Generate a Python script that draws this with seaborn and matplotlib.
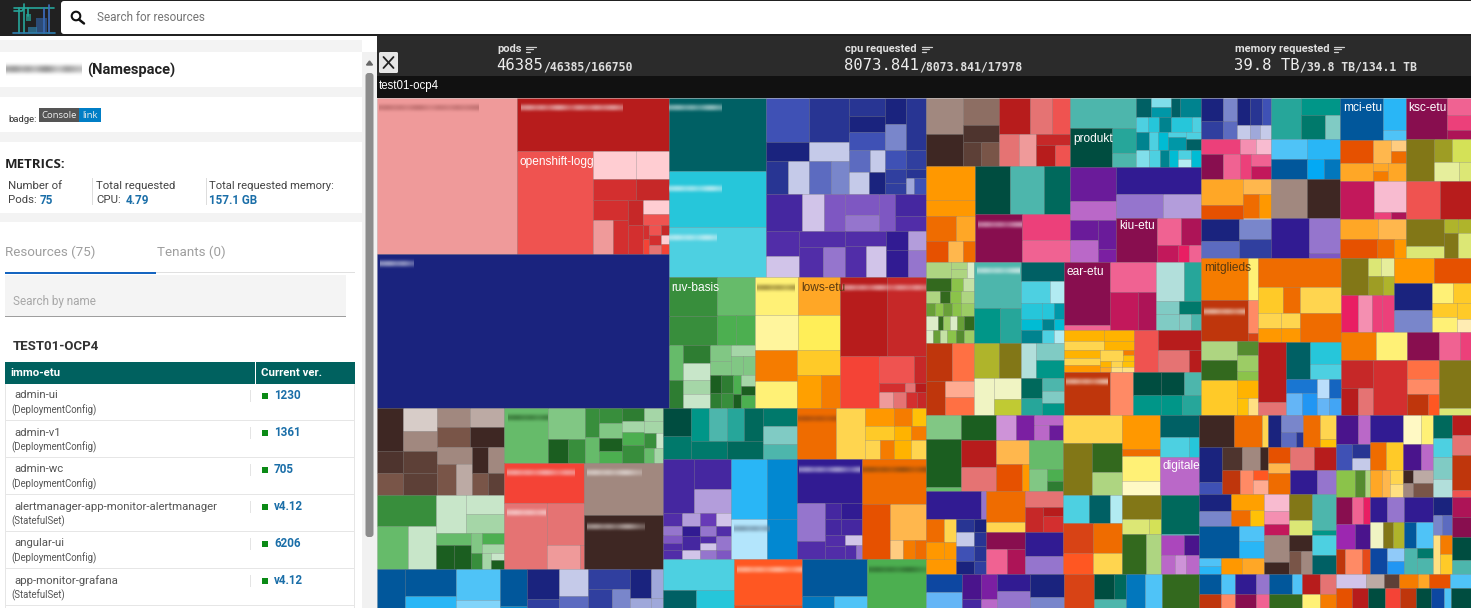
import matplotlib
matplotlib.use("Agg")
import matplotlib.pyplot as plt
import numpy as np
import seaborn as sns
from matplotlib.colors import to_rgb
from matplotlib.patches import Circle, FancyBboxPatch, Rectangle

# shade families, keys in the trees below are family letter + shade digit
SHADES = "123456789"
FAMILIES = {
    "R": ["#FFCDD2", "#EF9A9A", "#E57373", "#EF5350", "#F44336", "#E53935", "#D32F2F", "#C62828", "#B71C1C"],
    "K": ["#F8BBD0", "#F48FB1", "#F06292", "#EC407A", "#E91E63", "#D81B60", "#C2185B", "#AD1457", "#880E4F"],
    "P": ["#E1BEE7", "#CE93D8", "#BA68C8", "#AB47BC", "#9C27B0", "#8E24AA", "#7B1FA2", "#6A1B9A", "#4A148C"],
    "D": ["#D1C4E9", "#B39DDB", "#9575CD", "#7E57C2", "#673AB7", "#5E35B1", "#512DA8", "#4527A0", "#311B92"],
    "I": ["#C5CAE9", "#9FA8DA", "#7986CB", "#5C6BC0", "#3F51B5", "#3949AB", "#303F9F", "#283593", "#1A237E"],
    "U": ["#BBDEFB", "#90CAF9", "#64B5F6", "#42A5F5", "#2196F3", "#1E88E5", "#1976D2", "#1565C0", "#0D47A1"],
    "S": ["#B3E5FC", "#81D4FA", "#4FC3F7", "#29B6F6", "#03A9F4", "#039BE5", "#0288D1", "#0277BD", "#01579B"],
    "C": ["#B2EBF2", "#80DEEA", "#4DD0E1", "#26C6DA", "#00BCD4", "#00ACC1", "#0097A7", "#00838F", "#006064"],
    "T": ["#B2DFDB", "#80CBC4", "#4DB6AC", "#26A69A", "#009688", "#00897B", "#00796B", "#00695C", "#004D40"],
    "G": ["#C8E6C9", "#A5D6A7", "#81C784", "#66BB6A", "#4CAF50", "#43A047", "#388E3C", "#2E7D32", "#1B5E20"],
    "L": ["#DCEDC8", "#C5E1A5", "#AED581", "#9CCC65", "#8BC34A", "#7CB342", "#689F38", "#558B2F", "#33691E"],
    "M": ["#F0F4C3", "#E6EE9C", "#DCE775", "#D4E157", "#CDDC39", "#C0CA33", "#AFB42B", "#9E9D24", "#827717"],
    "Y": ["#FFF9C4", "#FFF59D", "#FFF176", "#FFEE58", "#FFEB3B", "#FDD835", "#FBC02D", "#F9A825", "#F57F17"],
    "A": ["#FFECB3", "#FFE082", "#FFD54F", "#FFCA28", "#FFC107", "#FFB300", "#FFA000", "#FF8F00", "#FF6F00"],
    "O": ["#FFE0B2", "#FFCC80", "#FFB74D", "#FFA726", "#FF9800", "#FB8C00", "#F57C00", "#EF6C00", "#E65100"],
    "F": ["#FFCCBC", "#FFAB91", "#FF8A65", "#FF7043", "#FF5722", "#F4511E", "#E64A19", "#D84315", "#BF360C"],
    "B": ["#D7CCC8", "#BCAAA4", "#A1887F", "#8D6E63", "#795548", "#6D4C41", "#5D4037", "#4E342E", "#3E2723"],
}

# treemap sizes: [size, child, size, child, ...], splits alternate between
# columns and rows at each level, a child is a nested list or a category key
RED_NAVY = [466, [398, "R2", 431, [160, "R9", 306, [214, "R4", 217, [81, [124, "R1", 93, "R1"], 65, [124, "R7", 93, "R8"], 160, [101, [59, "R7", 101, [59, "R2", 42, "R7"]], 42, [75, "R8", 85, "R7"], 74, [40, "R1", 35, "R4", 85, [18, [40, "R7", 45, "R5"], 32, [30, "R4", 30, "R7", 25, "R3"], 24, [30, "R8", 25, "R1", 30, "R5"]]]]]]]], 462, "I9"]
TEAL_COL = [218, "C9", 170, "C4", 149, "C3"]
INDIGO_PURPLE = [
    288, [123, [133, "I5", 55, "I9", 100, [62, "I8", 61, "I1"]],
          112, [133, "I8", 55, "I1", 100, [62, "I4", 50, "I3"]],
          103, [53, "I8", 50, "I9", 52, "I5", 68, [60, "I4", 43, "I1"], 65, [57, "I1", 46, "I9"]],
          60, [78, "I9", 77, "I3", 58, "I5", 43, "I7", 32, "I7"],
          58, [155, "I8", 58, "I7", 28, "I8", 47, [25, "I2", 33, "I5"]]],
    112, [102, "D8", 63, "D1", 61, "D4", 97, [62, "D4", 50, "D3"], 45, "D4", 88, [65, "D8", 47, "D7"]],
    137, [93, [73, "D7", 64, "D1"], 133, [48, "D7", 89, [68, "D7", 65, "D3"]], 115, [43, "D7", 94, [60, "D7", 55, "D1"]], 65, [55, "D9", 82, "D9"], 50, [55, "D2", 82, "D3"]],
]
GREEN_MID = [
    205, [138, [116, "G7", 89, "G7"], 108, [115, "G4", 90, [53, "G5", 55, "G5"]]],
    188, [41, [103, "G4", 85, "G8"], 75, [52, "G8", 50, "G1", 42, "G2", 41, "G1"],
          130, [90, [60, [46, "G3", 44, "G3"], 70, [32, "G2", 58, [35, "G3", 35, "G3"]]],
                98, [33, [52, "G9", 46, "G8"], 33, [52, "G8", 46, "G7"], 24, [55, "G5", 43, "G9"], 40, [32, "G2", 26, "G9", 40, "G5"]]]],
]
YELLOW_MID = [
    220, [123, [115, "Y3", 105, "Y2"], 120, [115, "O4", 105, "Y4"]],
    173, [121, [92, "O7", 81, "Y3"], 122, [75, "A4", 98, [68, "A7", 54, "O7"]]],
]
RED_MID = [
    238, [135, "R9", 110, "R8"],
    155, [110, "R5", 135, [80, [100, "R4", 35, "R8"], 28, [75, "R7", 30, "R3", 30, "R9"], 47, [40, "R2", 37, "R3", 33, "R7", 25, "R8"]]],
]
MID_TOP = [537, [278, TEAL_COL, 456, INDIGO_PURPLE], 393, [246, GREEN_MID, 243, YELLOW_MID, 245, RED_MID]]

BROWNS = [
    260, [73, [128, "B9", 65, "B8", 67, "B5"], 97, [68, "B1", 60, "B3", 65, "B7", 67, "B7"],
          192, [58, [95, "B3", 97, "B2"], 58, [95, "B5", 97, "B9"],
                144, [100, [52, "B3", 92, [55, "B5", 45, "B2"]], 45, [78, "B9", 66, "B5"], 47, [78, "B3", 66, "B7"]]]],
    220, [167, [93, "G7", 127, [87, "G4", 80, "G1"]],
          194, [112, [86, "G1", 108, [58, "G1", 54, "G2"]],
                108, [100, [36, "G4", 72, [50, "G9", 50, "G9"]], 30, [60, "G3", 48, "G7"], 64, [33, "G5", 28, "G2", 47, [25, "G2", 39, [20, "G1", 27, "G9"]]]]]],
]
GREEN_RED = [
    163, [123, "G4", 106, [92, "G3", 71, [57, "G9", 49, "G7"]], 40, [88, "G7", 75, "G4"], 66, [46, "G7", 44, "G3", 38, "G9", 35, "G5"], 63, [40, "G8", 33, "G2", 37, "G5", 53, "G7"], 53, [40, "G2", 35, "G2", 45, [33, "G7", 20, "G1"], 43, [27, "G4", 26, "G2"]]],
    317, [226, [120, "R5", 197, [122, "R3", 104, [125, "R3", 72, [92, "R2", 12, "R3"]]]], 225, [157, "B3", 160, "B9"]],
]
LOWER_LEFT = [
    480, [362, BROWNS, 451, GREEN_RED],
    213, [80, "S9", 145, [83, "S9", 130, "S4"], 125, [95, "S3", 118, "S2"], 75, [110, "S9", 103, "S7"], 93, [90, "I9", 123, "I7"], 82, [83, "I1", 130, "I4"], 120, [62, "I7", 151, [68, "I7", 52, "I3"]], 58, [88, "I9", 125, "I2"], 35, [88, "I2", 125, "I2"]],
]
LOWER_RIGHT = [
    153, [79, [85, "T9", 68, "T7"],
          206, [100, [51, "T5", 52, "T3", 50, "T4", 53, "T8"], 53, [103, "T7", 103, "T8"]],
          97, [53, "T7", 55, "T2", 45, "T3"],
          111, "O8", 83, "A3",
          174, [55, [83, "O5", 50, "O7", 41, "A5"], 41, [83, "A4", 48, "A6", 43, "O7"], 57, [43, "A3", 40, "O7", 48, "A6", 43, "A3"]]],
    298, [194, [162, [87, "D8", 107, [90, "D8", 72, "D2"]],
                136, [38, [53, "D7", 38, "D3", 33, "D4", 30, "D7", 40, "D7"], 35, [53, "D2", 42, "D9", 60, "D8", 39, "D1"], 33, [53, "D5", 42, "D3", 30, "D7", 30, "D1", 39, "D3"], 30, [53, "D1", 42, "D7", 60, "D3", 39, "D4"]]],
          103, [178, "S4", 120, "S1"], 85, [178, "S7", 120, "S7"],
          186, [130, "D9", 168, [80, [113, "D3", 55, "D7"], 106, [50, [47, "D8", 59, "D9"], 45, [47, "D8", 59, "D8"], 73, [57, [35, "D7", 38, "D7"], 49, [30, "D1", 43, [30, "D7", 19, "D3"]]]]]],
          182, [135, "O8", 163, [78, "O9", 104, [105, "O3", 58, [38, "O2", 34, "O7", 32, "O8"]]]]],
    242, [202, [93, "C3", 149, [95, "C9", 107, "C4"]], 195, [137, "F5", 105, "F7"], 185, [110, "S9", 132, [92, "S8", 93, "S3"]], 168, "G5"],
]
COL1 = [310, [292, RED_NAVY, 257, MID_TOP], 232, [286, LOWER_LEFT, 263, LOWER_RIGHT]]

# right half, upper left quarter
BROWN_RED_ROW = [105, [108, "B3", 95, "B9"], 105, [82, "B4", 50, "B8", 71, [53, "B7", 52, "B5"]],
                 205, [107, [90, "R9", 62, "R3", 53, "R4"], 96, [57, "R3", 50, "R2", 98, [35, "R8", 61, [55, "R9", 43, "R4"]]]]]
ORANGE_ROW = [142, [103, "O5", 47, "O5", 75, [87, "O8", 55, "O4"], 63, [63, "O9", 42, "O3", 37, "O8"]],
              273, [143, [100, "T9", 96, "T3", 77, "T8"], 145, [133, "K9", 140, [78, "K4", 65, "K3"]]]]
TEAL_ROW = [188, [90, "T3", 118, [120, "T9", 68, [75, "T4", 43, "T3"]]],
            187, [56, [42, "C9", 60, [27, "C2", 29, "C7"], 25, "C9", 60, "C8"],
                  47, [35, "C3", 30, "C4", 35, "C8", 60, "C4", 27, "C3"],
                  52, [38, "C8", 25, "C3", 30, "C5", 50, [15, "C3", 37, "C7"], 44, [20, "C3", 32, "C9"]],
                  53, [38, "C2", 32, "C3", 25, "C8", 25, "C5", 37, [28, "C3", 25, "C1"], 30, "C5"]]]
PURPLE_ROW = [131, [100, "P8", 58, "P3", 125, [80, [60, "P8", 65, "P3"], 51, [85, "P8", 40, "P7"]]],
              244, [80, "D9", 72, [135, "D3", 109, "D2"], 131, [117, "K9", 127, [80, [70, "K3", 57, "K8"], 51, [62, "K7", 30, "K5", 35, "K3"]]]]]

LIME_MOSAIC = [48, [72, "L3", 47, [22, "L3", 26, "L3"], 18, "L1"],
               38, [72, "L9", 35, "L5", 30, "L2"],
               37, [40, "L3", 30, "L9", 30, "L5", 37, "L3"],
               40, [25, "L7", 25, "L5", 25, "L7", 25, "L5", 37, "L4"],
               40, [35, "L1", 15, "L9", 20, "L4", 20, "L1", 20, "L7", 27, "L9"],
               40, [20, "L1", 20, "L7", 20, "L2", 25, "L5", 25, "L8", 27, "L4"]]
CYAN_MOSAIC = [58, "C9", 65, [82, "C3", 41, "C1"],
               120, [60, [47, "C4", 35, "C5", 38, "C8"], 33, [47, "C4", 35, "C8", 38, "C3"], 30, [47, "C7", 35, "C5", 38, "C1"]]]
B_LEFT = [243, [137, LIME_MOSAIC, 137, [137, "T3", 105, [75, "T5", 62, "T4"]], 123, CYAN_MOSAIC],
          216, [137, [115, [74, "F9", 63, "F4"], 101, [55, "F9", 82, [47, "F2", 54, "F4"]]],
                135, [105, [72, "M7", 63, "M9"], 111, [58, "M1", 77, [62, "M1", 49, "M6"]]],
                125, [105, [43, "T1", 82, [52, "T2", 53, "T5"]], 111, [62, [60, "T8", 51, "T4"], 63, [40, "T3", 35, "T2", 36, "T5"]]]]]
AMBER_MOSAIC = [53, [72, "A6", 55, "A6"], 40, [72, "A3", 55, "A6"],
                107, [65, [38, "A6", 35, "A3", 34, "O5"],
                      62, [55, [43, "A3", 19, [25, "O7", 30, "A5"]], 52, [20, [26, "A6", 26, "O4"], 20, [26, "A3", 26, "A2"], 22, [26, "A5", 26, "A2"]]]]]
B_RIGHT = [203, [133, [190, "K9", 13, "K3"], 130, [90, "K3", 113, [78, "K7", 52, "K8"]], 130, [117, [80, "T1", 50, "T4"], 40, [68, "T2", 62, "T7"], 46, [68, "T2", 32, "T2", 30, "T3"]]],
           128, [200, AMBER_MOSAIC, 70, "R4", 123, [62, "R9", 66, [88, "R3", 35, "R9"]]],
           128, [131, "F9", 68, "F3", 194, [67, [80, "T9", 64, "T9", 50, "T3"], 61, [80, "T5", 60, "T5", 54, "T4"]]]]
C2_LEFT = [164, [415, [203, BROWN_RED_ROW, 288, ORANGE_ROW], 375, [208, TEAL_ROW, 283, PURPLE_ROW]], 153, [397, B_LEFT, 393, B_RIGHT]]

# right half, upper right quarter
PINK_INDIGO = [202, [123, [62, [70, "I9", 53, "I7"], 42, [68, "I3", 55, "I4"], 98, [80, [38, "I9", 34, "I8", 28, "I5"], 43, [38, "I1", 30, "I2", 32, "I1"]]],
                     120, [112, [45, "K4", 75, [62, "K9", 50, "K3"]], 90, [45, [46, "K2", 44, "K1"], 75, [32, "K4", 58, [35, "K3", 40, "K7"]]]]],
               198, [123, [85, "T4", 113, [50, "T5", 73, [70, "T7", 43, "T2"]]], 60, [103, "S3", 95, "S4"], 60, [103, "S9", 50, "S5", 45, "S8"]]]
ORANGE_BROWN = [202, [118, [120, [80, "O4", 40, "O9"], 82, [47, "O3", 73, [47, "O8", 35, "O5"]]], 118, [110, [68, "I9", 50, "I4"], 92, [60, "I3", 58, "I7"]]],
                198, [116, [103, "B3", 95, "B9"], 120, [108, "D9", 90, [105, "D3", 15, "D4"]]]]
MCI_BLOCK = [190, [125, [125, "S9", 65, [97, "S4", 28, "S3"]], 123, [95, [70, "O9", 53, "O4"], 95, [70, [53, "O3", 42, [33, "O2", 37, "O8"]], 53, [45, [25, "O4", 28, "O7"], 50, "O4"]]]],
             188, [123, [120, "K9", 68, [52, "K3", 45, "K4", 26, "K8"]], 125, [82, "M9", 106, [68, [52, "M8", 54, "M4"], 57, [70, "M2", 36, "M3"]]]]]
MCI_LOWER = [115, [98, "K7", 94, [95, "K1", 20, [50, "K4", 44, "K8"]], 98, "R4", 88, "R9"],
             117, [192, [60, [110, "O4", 82, "O3"], 57, [108, "O9", 48, "O8", 36, "O5"]],
                   108, [80, "M9", 37, "M3"], 40, [42, "M7", 75, "M9"], 38, [42, "M7", 75, "M3"]]]
STRIP_A = [125, [135, "O7", 30, "Y3"], 125, [135, "F9", 30, [100, "F3", 25, "F8"]], 115, [103, [57, "L3", 58, "L9"], 60, [40, "L8", 50, "L4", 25, "L5"]], 106, [100, "A4", 60, [55, "A6", 51, [30, "A5", 30, "A2"]]]]
STRIP_B = [87, "O8", 78, [72, "A4", 48, "O8", 117, "A3"], 87, [65, [45, "A3", 40, "O5"], 55, [45, "A3", 40, "O5"], 117, "O8"],
           219, [80, [180, "R9", 39, "R3"], 157, [112, [70, "C9", 87, [65, "C4", 47, "C3"]], 107, [90, [42, "U7", 65, [45, "U3", 45, "U5"]], 67, [57, [30, "U1", 27, "U8"], 50, [30, "U3", 27, "U4"]]]]]]
STRIP_C = [222, [153, [110, [78, "M9", 75, [55, [38, "M3", 37, "M2"], 55, [45, "M8", 30, "M7"]]], 112, [50, "K5", 40, "K2", 30, "K4", 33, "K4"]],
                 223, [75, [117, "O5", 106, "O9"], 147, [112, [80, "I9", 67, "I3"], 111, [60, [60, "Y3", 51, "A4"], 87, [55, [55, "A4", 56, "Y3"], 32, [60, "A4", 51, "A1"]]]]]],
           249, [191, [83, [102, "O7", 89, "Y3"], 166, [95, [85, "R8", 81, [50, "R9", 45, "R3"]], 96, "R7"]],
                 185, [83, [92, "K9", 60, "K3", 33, "K4"], 166, [92, [57, "F4", 45, "F3", 64, [60, "F9", 32, "F5"]], 93, [145, "M9", 21, "M3"]]]]]
C2_RIGHT = [160, [400, [243, PINK_INDIGO, 237, ORANGE_BROWN], 378, [248, MCI_BLOCK, 232, [378, MCI_LOWER]]],
            157, [165, STRIP_A, 237, STRIP_B, 376, STRIP_C]]

# right half, lower rows
COLA = [227, [102, [75, "G3", 150, "G9", 12, "G4"], 98, [75, "G9", 80, "R9", 72, "R3"],
              195, [76, [58, "P2", 52, "P7", 85, [30, "P3", 46, [45, "P3", 40, "P8"]]], 151, [97, [72, "O3", 79, [75, "O9", 22, "O5"]], 98, [85, "G4", 66, [50, "G3", 48, [36, "G5", 30, "G8"]]]]]],
        250, [172, [85, [158, "D9", 14, "D3"], 165, [87, [70, [52, "O8", 35, "A3"], 50, [52, "O5", 35, "O5"], 45, "O5"], 85, [40, [50, "I8", 35, "I9"], 42, [50, "I1", 35, "I8"], 43, [50, "I5", 35, "I8"], 40, [50, "I9", 35, "I7"]]]],
              221, [125, [110, [95, "O8", 30, "A3"], 110, [50, "R3", 75, [52, "R8", 58, [25, "R9", 50, "R7"]]]], 125, [110, [50, "K9", 75, [60, "K3", 50, "K8"]], 110, [72, "D9", 53, "D3"]]]]]
COLB = [241, [168, [83, "A3", 152, [83, "M9", 85, [85, "L9", 67, "L3"]]], 110, [100, "O5", 22, "O8", 75, "Y3", 42, "Y1"], 112, [65, "C9", 60, [85, "C3", 27, "C4"], 116, "P3"]],
        236, [170, [82, [75, "C3", 58, "C9", 37, "C1"], 90, [85, "F8", 85, "O8"], 64, [85, "F5", 85, "A3"]],
              110, [72, "M9", 45, [78, "M3", 32, "M4"], 118, [68, "L9", 42, "L3"]],
              110, [115, "T8", 3, "C3", 60, [68, "P4", 42, "P9"], 58, [42, "P3", 30, "P2", 38, "P3"]]]]
COLC = [236, [200, [96, [100, "B9", 82, "O8", 18, "A3"], 140, [68, [105, "I9", 35, "I5"], 132, [70, [57, "B8", 50, "B3", 25, "B9"], 70, [50, "F9", 37, "F3", 45, [30, "F5", 40, "F2"]]]]],
              195, [96, [35, "I9", 65, [50, "I3", 46, [45, "I4", 20, "I8"]], 48, "O8", 47, [72, "A3", 24, "A5"]], 140, [63, [48, "O9", 30, "O3", 62, "O8"], 132, [68, [68, "R3", 64, "R9"], 72, [78, "D9", 54, "D3"]]]]],
        241, [187, [98, [93, [53, "I9", 45, "I3"], 94, [50, "A7", 48, [55, "O8", 39, "A5"]]], 95, [115, "S9", 72, [45, "S3", 50, "S4"]], 48, [63, [25, "S3", 23, "S4"], 62, "O5", 62, "O4"]],
              71, [53, "K1", 37, "K2", 35, "K7", 80, "B3", 36, "B9"],
              67, [78, "M9", 47, "M3", 48, "B9", 68, [35, "B5", 32, "B3"]],
              70, [108, "T3", 17, "T5", 58, "C3", 58, "C9"]]]
COLD = [200, [121, [70, [78, "P9", 43, "P3"], 65, [55, "I5", 66, [35, "I8", 30, "I1"]], 65, [68, "L5", 35, "L8", 18, "L3"]],
              115, [67, "D9", 68, [55, "O8", 60, "A4"], 65, [40, "O4", 30, "O3", 45, [33, "A3", 32, "A2"]]],
              105, [70, [65, "Y1", 40, "Y3"], 65, [65, "P9", 40, "P3"], 65, [35, [30, "B9", 35, "B3"], 70, [30, "B2", 35, "B5"]]],
              68, [57, "T8", 45, "C3", 55, "T2", 43, "T1"],
              68, [50, "R9", 48, "R3", 85, "F9", 17, "R4"]],
        188, [121, [65, [55, "K9", 40, "K3", 26, "K5"], 62, [65, "P5", 56, "P9"], 61, [30, "F9", 60, "F3", 31, "F7"]],
              120, [60, [60, "D9", 60, "D3"], 65, [45, "M1", 35, "M9", 40, "M7"], 63, [60, "U9", 60, [32, "U2", 31, "U5"]]],
              100, [62, "D9", 63, [42, "S9", 58, "S3"], 63, [45, "T3", 55, [25, "T7", 38, "T3"]]],
              68, [45, "I9", 47, [35, "I3", 33, "I4"], 96, [27, "A2", 41, [48, "O7", 48, "A4"]]],
              68, [50, "K8", 48, "K9", 55, "T9", 35, "T3"]]]
BOTA = [105, [55, "U9", 143, "U3"], 53, [75, "P9", 123, "D8"], 47, [75, "P7", 40, "P3", 83, "D8"], 95, [50, "D9", 148, "D3"], 98, [68, "I9", 130, "I3"]]
BOTB = [85, "F8", 92, [75, [57, "T9", 35, "T8"], 123, "T3"], 105, [115, [55, "S8", 50, "S3"], 83, "S9"], 105, [58, "L9", 47, [65, "L3", 133, "L3"]]]
BOTC = [60, [65, "S9", 38, "S3", 60, "D9", 40, "D3", 65, "S9", 30, "S3", 52, "R9", 45, "R3"],
        138, [65, "F9", 38, "F3", 60, "K9", 40, "K3", 95, "L9", 52, "Y3", 45, "O7"]]
BOTD = [42, [85, "D1", 50, "B2", 40, "B7", 55, "O7", 30, "O4", 60, "O9", 58, "S3"],
        156, [45, "O9", 47, "R9", 50, "T9", 43, "R5", 45, "F9", 42, "T9", 38, "U9", 20, "S3", 58, "T9"]]

COL2 = [317, [275, C2_LEFT, 270, C2_RIGHT],
        159, [395, COLA, 390, COLB, 395, COLC, 388, COLD],
        66, [398, [198, BOTA], 387, [198, BOTB], 395, BOTC, 388, BOTD]]
ROOT = [549, COL1, 545, COL2]

# sidebar table
ROW_NAMES = ["admin-ui", "admin-v1", "admin-wc", "alertmanager-app-monitor-alertmanager", "angular-ui", "app-monitor-grafana"]
ROW_KINDS = ["(DeploymentConfig)", "(DeploymentConfig)", "(DeploymentConfig)", "(StatefulSet)", "(DeploymentConfig)", "(StatefulSet)"]
ROW_VERSIONS = ["1230", "1361", "705", "v4.12", "6206", "v4.12"]

STAT_NAMES = ["pods", "cpu requested", "memory requested"]
STAT_MAIN = ["46385", "8073.841", "39.8 TB"]
STAT_REST = ["/46385/166750", "/8073.841/17978", "/39.8 TB/134.1 TB"]

# cluster names shown on the cells
CELL_NAMES = ["openshift-logg", "ruv-basis", "lows-etu", "mci-etu", "ksc-etu", "produkt", "kiu-etu", "ear-etu", "mitglieds", "digitale"]
CELL_DARK = [False, False, True, False, False, False, False, False, True, False]
BLUR_LEVELS = [0.75, 0.9, 0.6, 0.85, 0.5, 0.8, 0.95, 0.65, 0.45, 0.85, 0.7, 0.55, 0.9, 0.6]


def layout(node, x0, y0, x1, y1, across, out):
    sizes = node[0::2]
    children = node[1::2]
    total = sum(sizes)
    pos = x0 if across else y0
    span = (x1 - x0) if across else (y1 - y0)
    for size, child in zip(sizes, children):
        step = span * size / total
        if across:
            cell = (pos, y0, pos + step, y1)
        else:
            cell = (x0, pos, x1, pos + step)
        if isinstance(child, str):
            out.append((cell[0], cell[1], cell[2] - cell[0], cell[3] - cell[1], child))
        else:
            layout(child, cell[0], cell[1], cell[2], cell[3], not across, out)
        pos += step


sns.set_theme(style="white")
plt.rcParams["font.family"] = ["Roboto", "DejaVu Sans"]

fig = plt.figure(figsize=(14.71, 6.08), dpi=100, facecolor="white")
ax = fig.add_axes([0, 0, 1, 1])
ax.set_xlim(0, 1471)
ax.set_ylim(608, 0)
ax.axis("off")


def box(x, y, w, h, color, z=3, **kw):
    ax.add_patch(Rectangle((x, y), w, h, facecolor=color, edgecolor="none", zorder=z, **kw))


def label(x, y, s, size=8.5, color="#333333", weight="normal", family=None, ha="left"):
    kw = {"family": family} if family else {}
    ax.text(x, y, s, fontsize=size, color=color, fontweight=weight, ha=ha, va="center", zorder=8, **kw)


def blur(x, y, w, color, alpha=0.85, h=11):
    n = max(4, int(w / 6))
    levels = np.array([BLUR_LEVELS[i % len(BLUR_LEVELS)] for i in range(n)]) * alpha
    img = np.zeros((4, n, 4))
    img[..., :3] = to_rgb(color)
    img[..., 3] = np.outer([0.0, 1.0, 1.0, 0.0], levels)
    ax.imshow(img, extent=(x, x + w, y + h / 2, y - h / 2), aspect="auto", interpolation="bicubic", zorder=7)


palette = {}
for fam, hexes in FAMILIES.items():
    for shade, col in zip(SHADES, sns.color_palette(hexes)):
        palette[fam + shade] = col

# treemap
cells = []
layout(ROOT, 377, 98, 1471, 640, True, cells)
ax.bar([c[0] for c in cells], [c[3] for c in cells], width=[c[2] for c in cells], bottom=[c[1] for c in cells],
       align="edge", color=[palette[c[4]] for c in cells], edgecolor=(0, 0, 0, 0.13), linewidth=0.6, zorder=2)

# dark bars above the treemap
box(0, 0, 1471, 36, "#212121", 1)
box(377, 36, 1094, 40, "#2b2b2b", 1)
box(377, 76, 1094, 22, "#111111", 1)
label(379, 86.5, "test01-ocp4", 8.3, "white", "normal", "Liberation Sans")
ax.add_patch(FancyBboxPatch((379, 52), 19, 21, boxstyle="round,pad=0,rounding_size=1.5", facecolor="#e6e6e6", edgecolor="none", zorder=5))
ax.plot([383.5, 393.5], [57, 68], color="#222222", lw=1.3, zorder=6)
ax.plot([383.5, 393.5], [68, 57], color="#222222", lw=1.3, zorder=6)

stat_x = [497, 845, 1235]
icon_x = [526, 922, 1334]
for x, ix, name, main, rest in zip(stat_x, icon_x, STAT_NAMES, STAT_MAIN, STAT_REST):
    label(x, 49, name, 8, "#e0e0e0", "bold", "Roboto")
    for i, w in enumerate([10, 7, 4]):
        ax.plot([ix, ix + w], [46.5 + i * 2.5] * 2, color="#d0d0d0", lw=0.9, zorder=6)
    label(x - 1, 66, main, 11.2, "#eeeeee", "normal", "DejaVu Sans Mono")
    label(x - 1 + len(main) * 9.4, 67, rest, 8.3, "#dddddd", "bold", "DejaVu Sans Mono")

# top search bar
ax.add_patch(FancyBboxPatch((61, 1), 1420, 33, boxstyle="round,pad=0,rounding_size=3", facecolor="white", edgecolor="none", zorder=5))
label(97, 17.5, "Search for resources", 8.5, "#757575")
ax.add_patch(Circle((76, 16), 4.3, facecolor="none", edgecolor="#111111", lw=1.5, zorder=6))
ax.plot([79, 84], [19.5, 23.5], color="#111111", lw=1.8, zorder=6)

# logo
for xs, ys, col in [([14, 54], [8, 8], "#26a69a"), ([14, 22, 24], [11, 11, 8], "#26a69a"), ([24, 24], [4, 33], "#26a69a"),
                    ([19, 19], [8, 33], "#26a69a"), ([49, 49], [5, 33], "#3f6fc0"), ([44, 44], [8, 33], "#3f6fc0"),
                    ([13, 55], [33, 33], "#2f7fb0"), ([28, 28], [8, 16], "#26a69a")]:
    ax.plot(xs, ys, color=col, lw=1.2, zorder=6)
box(26, 14, 5, 7, "#26a69a", 6, alpha=0.7)
box(36, 18, 11, 15, "#3568b0", 6, alpha=0.6)
box(28, 27, 9, 6, "#2f80a8", 6, alpha=0.7)

# sidebar
box(0, 40, 377, 568, "white", 3)
for y0, y1 in [(40, 52), (87, 97), (132, 142), (213, 222)]:
    box(0, y0, 362, y1 - y0, "#f3f3f3", 3.5)
box(362, 52, 15, 556, "#f1f1f1", 3.5)
ax.add_patch(FancyBboxPatch((365.5, 73), 8, 464, boxstyle="round,pad=0,rounding_size=3", facecolor="#8c8c8c", edgecolor="none", zorder=5))
ax.fill([366.5, 369.5, 372.5], [65, 61, 65], color="#666666", zorder=6)

blur(6, 69, 76, "#777777", 0.85, 14)
label(87, 70.5, "(Namespace)", 10.5, "#222222", "bold")
label(8, 119, "badge:", 6.8, "#333333")
box(39, 108, 40, 14, "#555555", 5)
box(79, 108, 22, 14, "#007ec6", 5)
label(59, 115, "Console", 6.8, "#eeeeee", ha="center", family="Open Sans")
label(90, 115, "link", 6.8, "#eeeeee", ha="center", family="Open Sans")

label(5, 165, "METRICS:", 9.5, "#222222", "bold", "Open Sans")
label(8, 186, "Number of", 8.2, "#444444")
label(8, 200, "Pods:", 8.2, "#444444")
label(40, 200, "75", 8.4, "#1a6ea8", "bold")
label(96, 186, "Total requested", 8.2, "#444444")
label(96, 200, "CPU:", 8.2, "#444444")
label(126, 200, "4.79", 8.4, "#1a6ea8", "bold")
label(209, 186, "Total requested memory:", 8.1, "#444444")
label(209, 200, "157.1 GB", 8.4, "#1a6ea8", "bold")
box(92.5, 178, 0.8, 27, "#dddddd", 5)
box(206, 178, 0.8, 27, "#dddddd", 5)

label(5, 252, "Resources (75)", 9.6, "#9e9e9e")
label(157, 252, "Tenants (0)", 9.6, "#9e9e9e")
box(5, 272, 350, 1, "#e0e0e0", 5)
box(5, 272, 151, 2, "#1565c0", 5.5)
box(5, 275, 341, 41, "#f4f4f4", 4)
box(5, 315.5, 341, 1.2, "#9e9e9e", 5)
label(13, 301, "Search by name", 8.5, "#a8a8a8")
label(13, 346, "TEST01-OCP4", 9.5, "#333333", "bold")

box(5, 362, 350, 22, "#00615f", 5)
box(255, 362, 1.2, 22, "white", 6)
label(10, 373, "immo-etu", 8.2, "white", "bold")
label(261, 373, "Current ver.", 8.2, "white", "bold")
row_h = 37
for i, (name, kind, ver) in enumerate(zip(ROW_NAMES, ROW_KINDS, ROW_VERSIONS)):
    top = 384 + i * row_h
    box(5, top + row_h - 1, 350, 1, "#e6e6e6", 5)
    box(250.5, top + 6, 0.8, 12, "#e4e4e4", 5)
    label(14, top + 11.5, name, 8.2, "#555555")
    label(11, top + 26, kind, 6.9, "#555555")
    box(262, top + 8.5, 6, 6, "#0b8a16", 5.5)
    label(274, top + 11.5, ver, 8.4, "#1a6ea8", "bold")
box(5, 384, 0.8, 224, "#e6e6e6", 5)
box(255.6, 384, 0.8, 224, "#e6e6e6", 5)
box(354, 384, 0.8, 224, "#e6e6e6", 5)

# labels on the treemap
name_x = [520, 671, 801, 1343, 1408, 1073, 1119, 1067, 1204, 1163]
name_y = [162, 288, 288, 108, 108, 139, 226, 272, 268, 466]
for x, y, name, dark in zip(name_x, name_y, CELL_NAMES, CELL_DARK):
    label(x, y, name, 8.6, "#5a3a10" if dark else "white", "normal", "Liberation Sans")

# names that are pixelated on the screen
for x, y, w, col in [(379, 108, 100, "#b86a6a"), (521, 108, 102, "#ecc0c0"), (669, 108, 53, "#b5d5d5"),
                     (669, 189, 53, "#d5f2f6"), (669, 238, 48, "#d5f2f6"), (380, 264, 34, "#c5c8e0"),
                     (757, 288, 38, "#8a7a30"), (842, 288, 84, "#eeb8b8"), (508, 418, 40, "#2f6a30"),
                     (507, 473, 68, "#f4c0c0"), (587, 473, 55, "#e4dcd8"), (507, 513, 39, "#fadcdc"),
                     (587, 527, 58, "#c8bcb8"), (798, 419, 38, "#a04a10"), (799, 470, 61, "#bab4dc"),
                     (863, 470, 63, "#8a4a10"), (734, 529, 36, "#6a8aa0"), (737, 570, 65, "#ffc8b0"),
                     (869, 570, 57, "#2f6a30"), (977, 271, 43, "#d5ecea"), (978, 225, 44, "#dca8c4"),
                     (1204, 312, 41, "#f0d8c8"), (1066, 382, 42, "#f0d0c0")]:
    blur(x, y, w, col)

ax.set_xlim(0, 1471)
ax.set_ylim(608, 0)
fig.savefig("out.png", dpi=100)
plt.close(fig)
